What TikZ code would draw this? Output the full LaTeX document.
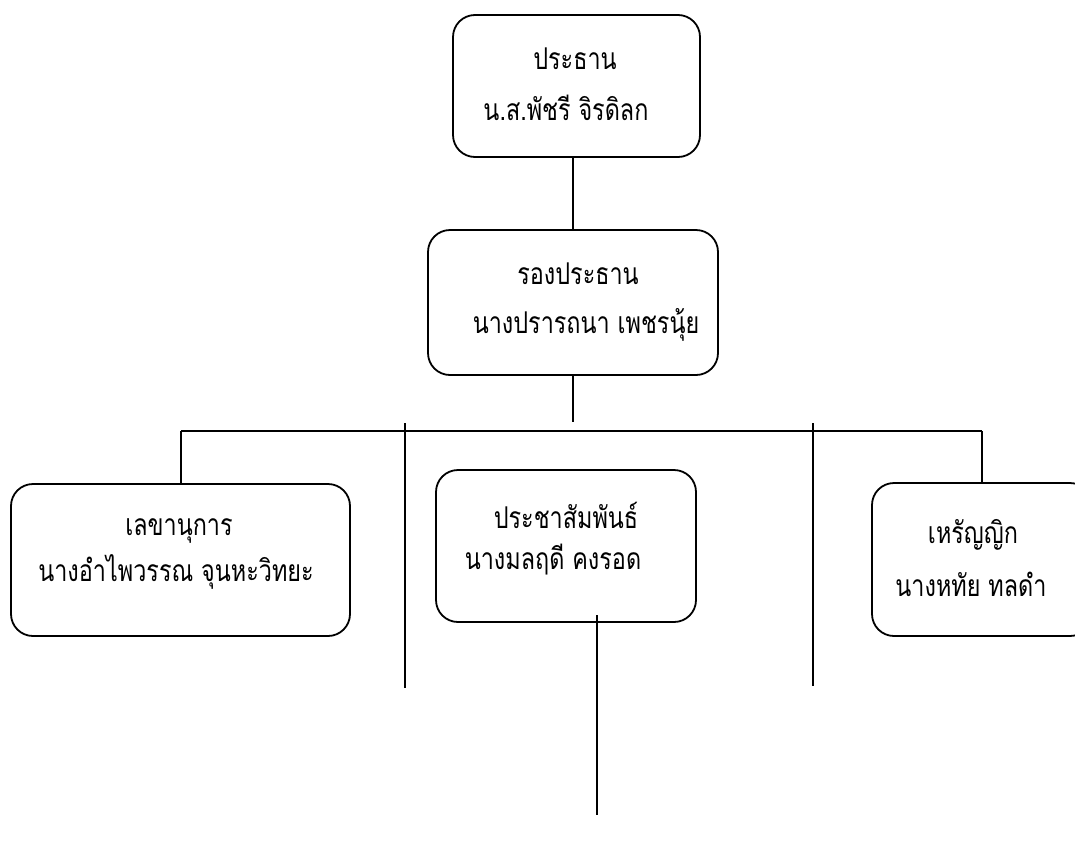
\documentclass[tikz,border=0pt]{standalone}
\usepackage{fontspec}
\newfontfamily\thaifont[Script=Thai,FakeStretch=0.78]{Loma}
\begin{document}
\begin{tikzpicture}[x=1pt,y=-1pt,
  box/.style={draw,line width=1.8pt,rounded corners=22pt,inner sep=0pt},
  lbl/.style={font=\thaifont\fontsize{30}{34}\selectfont,inner sep=0pt},
  conn/.style={line width=1.8pt}]
\useasboundingbox (0,0) rectangle (1075,841);
\clip (0,0) rectangle (1075,841);
% boxes
\node[box,minimum width=247pt,minimum height=142pt] (b1) at (576.5,86) {};
\node[box,minimum width=290pt,minimum height=145pt] (b2) at (573,302.5) {};
\node[box,minimum width=339pt,minimum height=152pt] (b3) at (180.5,560) {};
\node[box,minimum width=260pt,minimum height=152pt] (b4) at (566,546) {};
\node[box,minimum width=220pt,minimum height=153pt] (b5) at (982,559.5) {};
% texts
\node[lbl] (t1a) at (575,59) {ประธาน};
\node[lbl] (t1b) at (566,108) {น.ส.พัชรี จิรดิลก};
\node[lbl] (t2a) at (578,274) {รองประธาน};
\node[lbl] (t2b) at (586,325) {นางปรารถนา เพชรนุ้ย};
\node[lbl] (t3a) at (179,531) {เลขานุการ};
\node[lbl] (t3b) at (176,572) {นางอำไพวรรณ จุนหะวิทยะ};
\node[lbl] (t4a) at (566,515) {ประชาสัมพันธ์};
\node[lbl] (t4b) at (553,560) {นางมลฤดี คงรอด};
\node[lbl] (t5a) at (973,535) {เหรัญญิก};
\node[lbl] (t5b) at (971,584) {นางหทัย ทลดำ};
% coordinates
\coordinate (j1) at (573,422);
\coordinate (hl) at (181,431);
\coordinate (hr) at (982,431);
\coordinate (v1a) at (405,423);
\coordinate (v1b) at (405,688);
\coordinate (v2a) at (813,423);
\coordinate (v2b) at (813,686);
\coordinate (p4a) at (597,615);
\coordinate (p4b) at (597,815);
% connectors
\draw[conn] (b2.north) -- (b2.north |- b1.south);
\draw[conn] (b2.south) -- (j1);
\draw[conn] (hl) -- (hr);
\draw[conn] (hl) -- (hl |- b3.north);
\draw[conn] (hr) -- (hr |- b5.north);
\draw[conn] (v1a) -- (v1b);
\draw[conn] (v2a) -- (v2b);
\draw[conn] (p4a) -- (p4b);
\end{tikzpicture}
\end{document}
